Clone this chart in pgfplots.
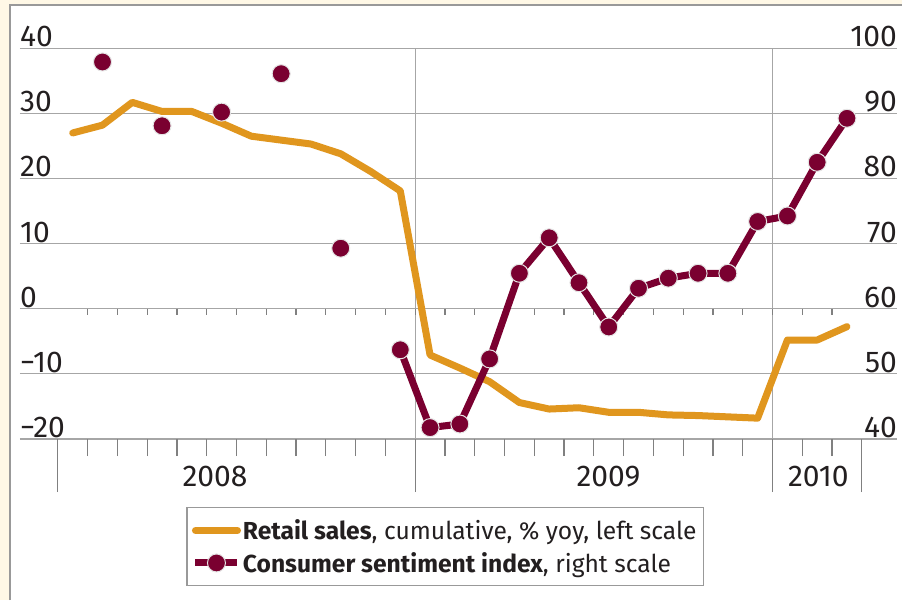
\documentclass[border=0pt]{standalone}
\usepackage{fontspec}
\setmainfont{Fira Sans}
\usepackage{pgfplots}
\pgfplotsset{compat=1.18}

\definecolor{cream}{HTML}{FFF8E6}
\definecolor{rsorange}{HTML}{E0961E}
\definecolor{csmaroon}{HTML}{7A0030}
\definecolor{gridgray}{HTML}{A6A6A6}
\definecolor{tickgray}{HTML}{808080}
\definecolor{labelblack}{HTML}{231F20}

% retail sales, cumulative % yoy (left scale), x = months from Jan 2008, mid-month
\pgfplotstableread{
x y
0.5 27.0
1.5 28.2
2.5 31.7
3.5 30.3
4.5 30.3
5.5 28.5
6.5 26.5
7.5 25.9
8.5 25.3
9.5 23.8
10.5 21.1
11.5 18.1
12.5 -7.1
13.5 -9.1
14.5 -11.2
15.5 -14.4
16.5 -15.4
17.5 -15.2
18.5 -15.9
19.5 -15.9
20.5 -16.3
21.5 -16.4
22.5 -16.6
23.5 -16.8
24.5 -4.8
25.5 -4.8
26.5 -2.75
}\retail

% consumer sentiment index (right scale)
\pgfplotstableread{
x y
1.5 97.9
2.5 nan
3.5 88.1
4.5 nan
5.5 90.2
6.5 nan
7.5 96.1
8.5 nan
9.5 69.3
10.5 nan
11.5 53.7
12.5 41.75
13.5 42.3
14.5 52.3
15.5 65.45
16.5 70.9
17.5 64.0
18.5 57.2
19.5 63.15
20.5 64.7
21.5 65.45
22.5 65.45
23.5 73.4
24.5 74.25
25.5 82.5
26.5 89.25
}\sentiment

\newcommand\tickfont{\fontsize{30}{36}\selectfont}

\pgfplotsset{
  chartbase/.style={
    at={(20pt,161pt)}, anchor=south west,
    scale only axis, width=877pt, height=390.7pt,
    xmin=-1.27, xmax=28.18,
    axis line style={draw=none},
    tick align=outside,
    tick style={tickgray, line width=1.2pt},
    ytick style={draw=none},
    ticklabel style={font=\tickfont, text=labelblack},
    clip=false,
  },
}

\begin{document}
\begin{tikzpicture}[x=1pt,y=1pt]
\path[use as bounding box] (0,0) rectangle (902,600);
\fill[cream] (0,0) rectangle (902,600);
\fill[white] (10,0) rectangle (902,595);
\draw[gray!80, line width=1.2pt] (10,0) -- (10,595) -- (902,595);

\begin{axis}[chartbase,
  ymin=-20, ymax=40,
  axis x line*=bottom, axis y line*=left,
  xtick={0,...,27}, xticklabels={}, major tick length=17pt,
  extra x ticks={12,24}, extra x tick labels={},
  extra x tick style={grid=major, major tick length=53pt},
  ytick={-20,-10,...,40},
  yticklabels={−20,−10,0,10,20,30,40},
  yticklabel style={anchor=south west, inner sep=0pt, xshift=17pt, yshift=1pt},
  ymajorgrids,
  grid style={gridgray, line width=1.2pt},
]
\pgfplotsinvokeforeach{1,...,26}{
  \draw[tickgray, line width=1.2pt] (axis cs:#1,0) -- ([yshift=-6pt]axis cs:#1,0);
}
\addplot[rsorange, line width=7pt, line cap=round, line join=round] table[x=x, y=y] {\retail};
\node[anchor=base, yshift=-47.7pt, font=\tickfont, text=labelblack] at (axis cs:5.28,-20) {2008};
\node[anchor=base, yshift=-47.7pt, font=\tickfont, text=labelblack] at (axis cs:18.49,-20) {2009};
\node[anchor=base, yshift=-47.7pt, font=\tickfont, text=labelblack] at (axis cs:25.54,-20) {2010};
\end{axis}

\begin{axis}[chartbase,
  ymin=40, ymax=100,
  axis x line*=bottom, axis y line*=right,
  xtick={0,27}, xticklabels={}, major tick length=53pt,
  ytick={40,50,...,100},
  yticklabels={40,50,60,70,80,90,100},
  yticklabel style={anchor=south east, inner sep=0pt, xshift=-53pt, yshift=1pt},
  unbounded coords=jump,
  legend cell align=left,
  legend style={at={(0.1897,-0.1745)}, anchor=north west,
    draw=gray!80, line width=1.2pt, fill=white,
    font=\fontsize{24.6}{29}\selectfont, text=labelblack,
    inner xsep=5pt, inner ysep=10pt, row sep=7pt},
  legend image code/.code={
    \draw[mark repeat=2, mark phase=2, #1] plot coordinates {(0pt,0pt) (21pt,0pt) (42pt,0pt)};
  },
]
\addlegendimage{rsorange, line width=7pt, line cap=round}
\addlegendentry{\textbf{Retail sales}, cumulative, \% yoy, left scale}
\addplot[csmaroon, line width=7pt, line join=round, mark=*, mark size=9pt,
  mark options={draw=white!80!gray, line width=1pt, fill=csmaroon}] table[x=x, y=y] {\sentiment};
\addlegendentry{\textbf{Consumer sentiment index}, right scale}
\end{axis}
\end{tikzpicture}
\end{document}
